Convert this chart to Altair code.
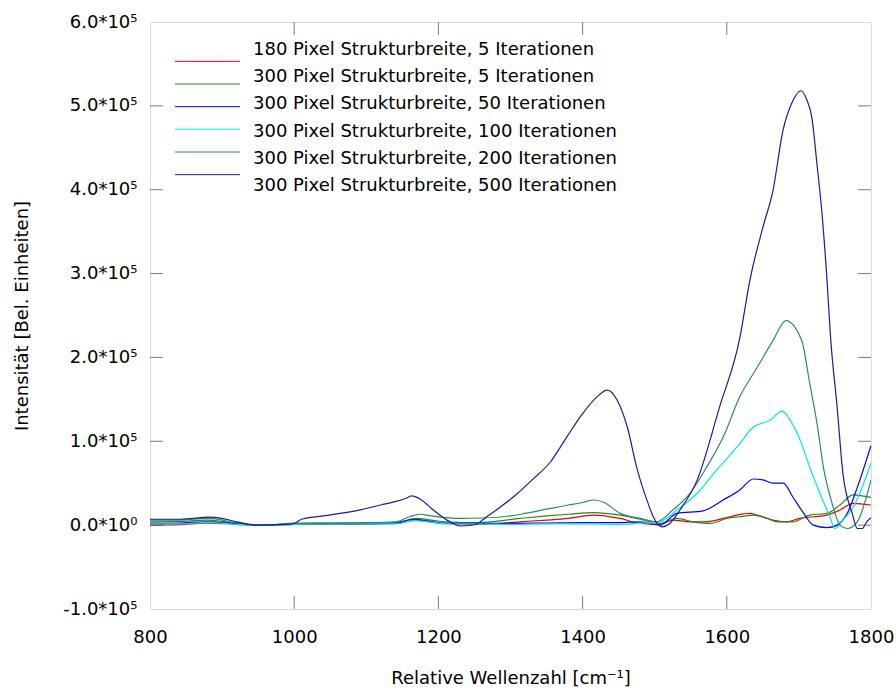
import altair as alt
import pandas as pd

# Series labels and line colours
labels = [
    "180 Pixel Strukturbreite, 5 Iterationen",
    "300 Pixel Strukturbreite, 5 Iterationen",
    "300 Pixel Strukturbreite, 50 Iterationen",
    "300 Pixel Strukturbreite, 100 Iterationen",
    "300 Pixel Strukturbreite, 200 Iterationen",
    "300 Pixel Strukturbreite, 500 Iterationen",
]
colors = ["#f00000", "#1e8c1e", "#0000ff", "#00e8e8", "#2e8b60", "#1c1ca0"]

# Spectra: wavenumber [cm^-1] and intensity [a.u.]
x_180_5 = [800, 840, 880, 920, 950, 1000, 1050, 1100, 1140, 1170, 1190, 1210, 1258, 1313, 1350, 1380,
           1415, 1452, 1480, 1507, 1525, 1549, 1572, 1595, 1614, 1632, 1646, 1664, 1683, 1701, 1720,
           1739, 1757, 1775, 1800]
y_180_5 = [0, 500, 2500, 1000, 0, 1000, 1500, 1500, 2000, 6000, 4000, 2000, 1000, 4000, 6000, 8000,
           12000, 8000, 2000, 1000, 6000, 4000, 4000, 8000, 12000, 14000, 11000, 6000, 4000, 8000, 10000,
           12000, 18000, 26000, 24000]

x_300_5 = [800, 840, 880, 920, 950, 1000, 1050, 1100, 1140, 1170, 1190, 1210, 1258, 1313, 1350, 1380,
           1415, 1452, 1480, 1507, 1531, 1553, 1577, 1600, 1618, 1637, 1656, 1670, 1692, 1715, 1739,
           1757, 1775, 1800]
y_300_5 = [4000, 4500, 6000, 2000, 0, 2000, 2500, 2500, 3000, 8000, 6000, 4000, 3000, 8000, 11000, 13000,
           15000, 12000, 7000, 2000, 8000, 4000, 2000, 8000, 10000, 12000, 8000, 4000, 4000, 12000, 14000,
           24000, 36000, 33000]

x_300_50 = [800, 840, 880, 920, 950, 1000, 1050, 1100, 1140, 1165, 1185, 1210, 1250, 1300, 1350, 1400,
            1450, 1480, 1507, 1531, 1567, 1595, 1618, 1637, 1650, 1664, 1678, 1692, 1706, 1720, 1739,
            1753, 1767, 1781, 1800]
y_300_50 = [2000, 2500, 4000, 1500, 0, 1000, 1500, 1500, 2000, 7000, 5000, 2000, 2000, 2000, 2500, 3000,
            3000, 4000, 0, 14000, 17000, 30000, 42000, 55000, 54000, 50000, 50000, 33000, 15000, 0, -3000,
            0, 14000, 45000, 95000]

x_300_100 = [800, 840, 880, 920, 950, 1000, 1050, 1100, 1140, 1165, 1185, 1210, 1250, 1300, 1350, 1400,
             1450, 1480, 1507, 1531, 1559, 1586, 1614, 1637, 1660, 1677, 1688, 1702, 1715, 1729, 1743,
             1750, 1761, 1775, 1800]
y_300_100 = [1500, 1500, 3000, 1000, 0, 1000, 1500, 1500, 1500, 5500, 4000, 1500, 1500, 1000, 1500, 1500,
             1000, 2000, 4000, 18000, 38000, 66000, 93000, 117000, 125000, 136000, 125000, 101000, 69000,
             38000, 10000, -4000, 6000, 21000, 74000]

x_300_200 = [800, 840, 880, 920, 950, 1000, 1050, 1100, 1140, 1160, 1174, 1190, 1210, 1230, 1260, 1300,
             1320, 1350, 1380, 1400, 1415, 1430, 1452, 1480, 1503, 1525, 1549, 1572, 1595, 1618, 1642,
             1664, 1682, 1704, 1715, 1725, 1734, 1746, 1757, 1767, 1781, 1800]
y_300_200 = [6000, 6000, 8000, 3000, 0, 2000, 2500, 3000, 4000, 10000, 13000, 11000, 9000, 8000, 8500,
             11000, 14000, 19000, 24000, 27000, 30000, 27000, 14000, 8000, 4000, 18000, 38000, 69000,
             105000, 153000, 188000, 220000, 244000, 220000, 169000, 122000, 69000, 26000, 0, -4000,
             4000, 54000]

x_300_500 = [800, 840, 860, 880, 900, 920, 950, 980, 1000, 1010, 1040, 1090, 1120, 1140, 1155, 1163,
             1175, 1193, 1212, 1230, 1250, 1267, 1285, 1310, 1330, 1355, 1378, 1400, 1420, 1434, 1448,
             1462, 1475, 1490, 1498, 1510, 1521, 1535, 1559, 1590, 1618, 1632, 1650, 1664, 1678, 1690,
             1703, 1711, 1718, 1725, 1732, 1739, 1744, 1753, 1761, 1774, 1781, 1788, 1794, 1800]
y_300_500 = [7000, 7000, 8000, 9500, 8000, 4000, 0, 500, 2000, 7000, 11000, 18000, 24000, 28000, 32000,
             35000, 31000, 18000, 6000, -1000, 500, 10000, 21000, 38000, 54000, 75000, 105000, 133000,
             153000, 161000, 149000, 117000, 69000, 28000, 10000, -2000, 2000, 18000, 54000, 141000,
             223000, 292000, 355000, 399000, 471000, 503000, 518000, 507000, 486000, 431000, 372000,
             292000, 223000, 141000, 62000, 14000, -4000, -4000, 4000, 9000]

series = [
    (x_180_5, y_180_5),
    (x_300_5, y_300_5),
    (x_300_50, y_300_50),
    (x_300_100, y_300_100),
    (x_300_200, y_300_200),
    (x_300_500, y_300_500),
]

rows = []
for label, (xs, ys) in zip(labels, series):
    for xv, yv in zip(xs, ys):
        rows.append({"label": label, "x": xv, "y": yv})
df = pd.DataFrame(rows)

W, H = 721, 587
FONT = "DejaVu Sans"
FS = 18

x_ticks = [800, 1000, 1200, 1400, 1600, 1800]
y_ticks = [-100000, 0, 100000, 200000, 300000, 400000, 500000, 600000]

x_scale = alt.Scale(domain=[800, 1800], nice=False, zero=False)
y_scale = alt.Scale(domain=[-100000, 600000], nice=False, zero=False)
color_scale = alt.Scale(domain=labels, range=colors)

x_axis = alt.Axis(
    values=x_ticks, format="d", ticks=False, tickSize=0, domain=False, grid=False,
    labelFont=FONT, labelFontSize=FS, labelColor="black",
    labelBaseline="alphabetic", labelPadding=33, labelFlush=False,
    title="Relative Wellenzahl [cm\u207b\u00b9]", titleFont=FONT, titleFontSize=FS,
    titleFontWeight="normal", titleColor="black", titleBaseline="alphabetic",
    titleX=W / 2, titleY=74)

y_axis = alt.Axis(
    values=y_ticks, ticks=False, tickSize=0, domain=False, grid=False,
    labelFont=FONT, labelFontSize=FS, labelColor="black", labelPadding=13,
    labelFlush=False,
    labelExpr="datum.value == 0 ? '0.0*10\u2070' : "
              "(datum.value < 0 ? '-' : '') + format(abs(datum.value) / 100000, '.1f') + '*10\u2075'",
    title="Intensit\u00e4t [Bel. Einheiten]", titleFont=FONT, titleFontSize=FS,
    titleFontWeight="normal", titleColor="black", titleAngle=270,
    titleBaseline="middle", titleAlign="center", titleX=-128, titleY=H / 2)

lines = alt.Chart(df).mark_line(strokeWidth=1.2, interpolate="monotone", clip=True).encode(
    x=alt.X("x:Q", scale=x_scale, axis=x_axis),
    y=alt.Y("y:Q", scale=y_scale, axis=y_axis),
    color=alt.Color("label:N", scale=color_scale, legend=None),
)

# Inward tick marks on all four sides of the frame
xt = pd.DataFrame({"v": [1000, 1200, 1400, 1600]})
yt = pd.DataFrame({"v": [0, 100000, 200000, 300000, 400000, 500000]})
tick_style = dict(size=13, thickness=1, color="#444444")

x_ticks_bottom = alt.Chart(xt).mark_tick(orient="vertical", **tick_style).encode(
    x=alt.X("v:Q", scale=x_scale, axis=x_axis), y=alt.value(H - 6.5))
x_ticks_top = alt.Chart(xt).mark_tick(orient="vertical", **tick_style).encode(
    x=alt.X("v:Q", scale=x_scale, axis=x_axis), y=alt.value(6.5))
y_ticks_left = alt.Chart(yt).mark_tick(orient="horizontal", **tick_style).encode(
    y=alt.Y("v:Q", scale=y_scale, axis=None), x=alt.value(6.5))
y_ticks_right = alt.Chart(yt).mark_tick(orient="horizontal", **tick_style).encode(
    y=alt.Y("v:Q", scale=y_scale, axis=None), x=alt.value(W - 6.5))

# Key inside the plot, upper left
key_df = pd.DataFrame({"label": labels})
key_y = alt.Y("label:N", scale=alt.Scale(domain=labels, range=[28, 164], padding=0), axis=None)
key_lines = alt.Chart(key_df).mark_rule(strokeWidth=1).encode(
    y=key_y, x=alt.value(25), x2=alt.value(90),
    color=alt.Color("label:N", scale=color_scale, legend=None))
key_text = alt.Chart(key_df).mark_text(
    align="left", baseline="middle", font=FONT, fontSize=FS, color="black").encode(
    y=key_y, x=alt.value(103), text="label:N")

chart = alt.layer(
    lines, x_ticks_bottom, x_ticks_top, y_ticks_left, y_ticks_right, key_lines, key_text
).resolve_scale(y="independent").properties(
    width=W, height=H,
    autosize=alt.AutoSizeParams(type="none"),
    padding={"left": 150, "top": 22, "right": 25, "bottom": 80},
).configure_view(stroke="#333333", strokeWidth=1).configure(background="white")

chart.save("out.html", embed_options={"renderer": "svg", "actions": False})
